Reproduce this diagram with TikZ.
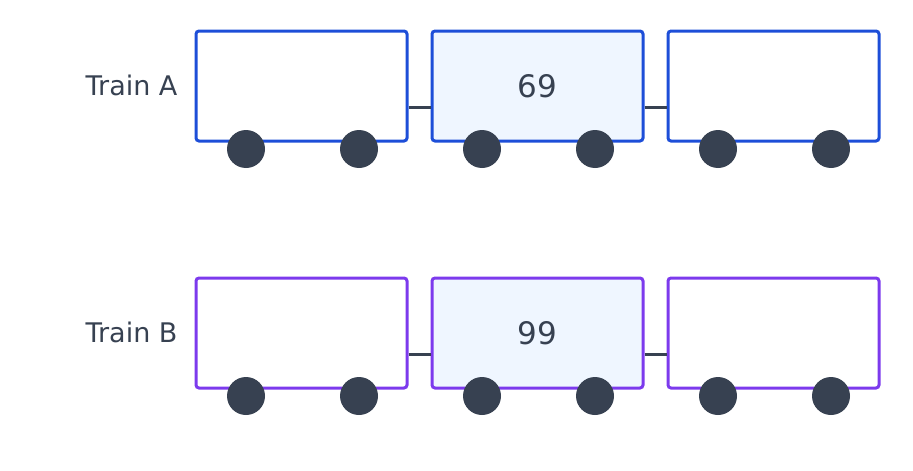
\documentclass[tikz,border=0pt]{standalone}
\usepackage{fontspec}
\setmainfont{DejaVu Sans}
\definecolor{txt}{HTML}{374151}
\definecolor{blu}{HTML}{1D4ED8}
\definecolor{pur}{HTML}{7C3AED}
\definecolor{lite}{HTML}{EFF6FF}
\begin{document}
\begin{tikzpicture}[x=1pt,y=-1pt,
  car/.style={draw=#1,line width=3pt,rounded corners=3pt,minimum width=211pt,minimum height=110pt,inner sep=0pt,anchor=north west,text=txt,font=\fontsize{31}{31}\selectfont},
  wheel/.style={circle,fill=txt,minimum size=38pt,inner sep=0pt},
  coup/.style={draw=txt,line width=3pt},
  lab/.style={anchor=east,text=txt,font=\fontsize{27}{27}\selectfont}]
\useasboundingbox (0,0) rectangle (913,471);
\foreach \r/\y/\c/\n/\L in {a/29.5/blu/69/A,b/276.5/pur/99/B}{
  \node[lab] (l\r) at (181,\y+55.5) {Train \L};
  \node[car=\c] (\r1) at (194.5,\y) {};
  \node[car=\c,fill=lite] (\r2) at (430.5,\y) {\n};
  \node[car=\c] (\r3) at (666.5,\y) {};
  \draw[coup] ([yshift=-21pt]\r1.east) -- ([yshift=-21pt]\r2.west);
  \draw[coup] ([yshift=-21pt]\r2.east) -- ([yshift=-21pt]\r3.west);
  \foreach \i/\x in {1/196,2/432,3/668}{
    \node[wheel] (\r\i w1) at (\x+50,\y+119.5) {};
    \node[wheel] (\r\i w2) at (\x+163,\y+119.5) {};
  }
}
\end{tikzpicture}
\end{document}
